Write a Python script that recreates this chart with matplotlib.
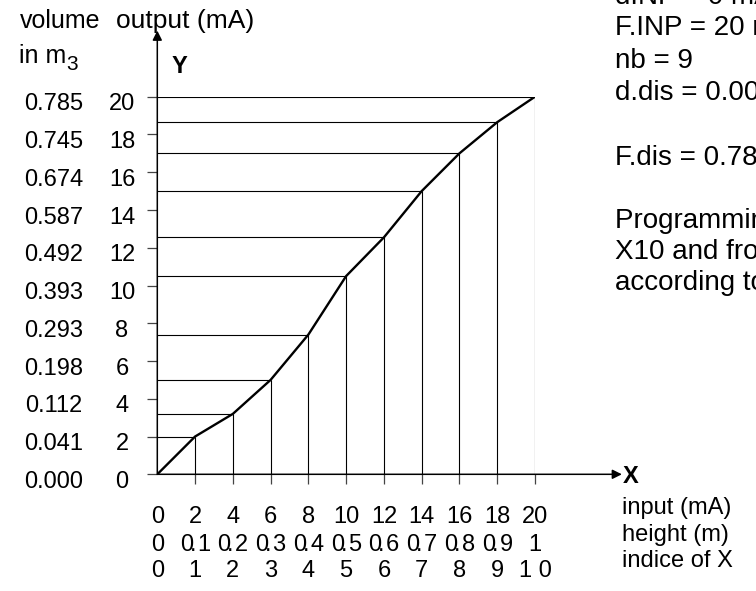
# Tank calibration chart: output current against input current
import matplotlib.pyplot as plt

plt.rcParams['font.family'] = ['Liberation Sans', 'DejaVu Sans']
plt.rcParams['mathtext.fontset'] = 'custom'
plt.rcParams['mathtext.rm'] = 'Liberation Sans'
plt.rcParams['mathtext.it'] = 'Liberation Sans:italic'

# input (mA) at each point and the output (mA) read at that point
x_input = [0, 2, 4, 6, 8, 10, 12, 14, 16, 18, 20]
y_output = [0, 2.0, 3.2, 5.0, 7.4, 10.5, 12.55, 15.0, 17.0, 18.65, 20]

# axis labels
y_ticks = [0, 2, 4, 6, 8, 10, 12, 14, 16, 18, 20]
y_volume = ["0.000", "0.041", "0.112", "0.198", "0.293", "0.393",
            "0.492", "0.587", "0.674", "0.745", "0.785"]
x_ticks = [2, 4, 6, 8, 10, 12, 14, 16, 18, 20]
row_input = ["0", "2", "4", "6", "8", "10", "12", "14", "16", "18", "20"]
row_height = ["0", "0.1", "0.2", "0.3", "0.4", "0.5", "0.6", "0.7", "0.8", "0.9", "1"]
row_index = ["0", "1", "2", "3", "4", "5", "6", "7", "8", "9", "1 0"]

notes = ["dINP = 0 mA", "F.INP = 20 mA", "nb = 9", "d.dis = 0.000", "",
         "F.dis = 0.785", "", "Programming of X1 to",
         "X10 and from Y1 to Y10", "according to the table"]

W, H = 756, 591
fig = plt.figure(figsize=(W / 100, H / 100), dpi=100)
ax = fig.add_axes([157.3 / W, (H - 474.3) / H, 377.7 / W, 377.6 / H])
ax.set_xlim(0, 20)
ax.set_ylim(0, 20)
for s in ax.spines.values():
    s.set_visible(False)


def fxy(px, py):
    # pixel position -> figure fraction
    return px / W, 1 - py / H


def tight(label):
    # the height row is printed with the decimal point squeezed in
    if '.' in label:
        a, b = label.split('.')
        return r'$' + a + r'\!.\!' + b + r'$'
    return label


FS = 17

# guide lines from the axes to each point on the curve
for xi, yi in zip(x_input[1:], y_output[1:]):
    ax.plot([0, xi], [yi, yi], color='black', lw=0.8, solid_capstyle='butt')
    ax.plot([xi, xi], [0, yi], color='black', lw=0.8, solid_capstyle='butt')

ax.plot(x_input, y_output, color='black', lw=1.7, solid_joinstyle='round')

# axes with arrows
arrow = dict(arrowstyle='-|>', color='black', lw=1.1, mutation_scale=14,
             shrinkA=0, shrinkB=0)
ax.annotate('', xy=(0, 23.5), xytext=(0, 0), arrowprops=arrow,
            annotation_clip=False)
ax.annotate('', xy=(24.6, 0), xytext=(0, 0), arrowprops=arrow,
            annotation_clip=False)

ax.set_xticks(x_ticks)
ax.set_yticks(y_ticks)
ax.tick_params(direction='out', length=7.2, width=0.9, color='#444444',
               labelbottom=False, labelleft=False)

# y labels: volume and output
for yv, vol in zip(y_ticks, y_volume):
    ax.text(-5.47, yv - 0.72, vol, ha='center', va='baseline', fontsize=FS,
            clip_on=False)
    ax.text(-1.87, yv - 0.72, str(yv), ha='center', va='baseline', fontsize=FS,
            clip_on=False)

# x label rows
for xv, a, b, c in zip(x_input, row_input, row_height, row_index):
    ax.text(xv, -2.60, a, ha='center', va='baseline', fontsize=FS, clip_on=False)
    ax.text(xv, -4.05, tight(b), ha='center', va='baseline', fontsize=FS,
            clip_on=False)
    ax.text(xv, -5.46, c, ha='center', va='baseline', fontsize=FS, clip_on=False)

fig.text(*fxy(20, 28), "volume", fontsize=18, va='baseline')
fig.text(*fxy(116, 28), "output (mA)", fontsize=19, va='baseline')
fig.text(*fxy(19, 63), "in m", fontsize=18, va='baseline')
fig.text(*fxy(66, 70), "3", fontsize=15, va='baseline')
fig.text(*fxy(172, 73), "Y", fontsize=FS, fontweight='bold', va='baseline')
fig.text(*fxy(623, 483), "X", fontsize=FS, fontweight='bold', va='baseline')

fig.text(*fxy(622, 514), "input (mA)", fontsize=FS, va='baseline')
fig.text(*fxy(622, 541), "height (m)", fontsize=FS, va='baseline')
fig.text(*fxy(622, 567), "indice of X", fontsize=FS, va='baseline')

base = [4, 35, 68, 100, 133, 165, 198, 228, 259, 290]
for line, py in zip(notes, base):
    if line:
        fig.text(*fxy(615, py), line, fontsize=20, va='baseline')

fig.savefig('out.png', dpi=100)
